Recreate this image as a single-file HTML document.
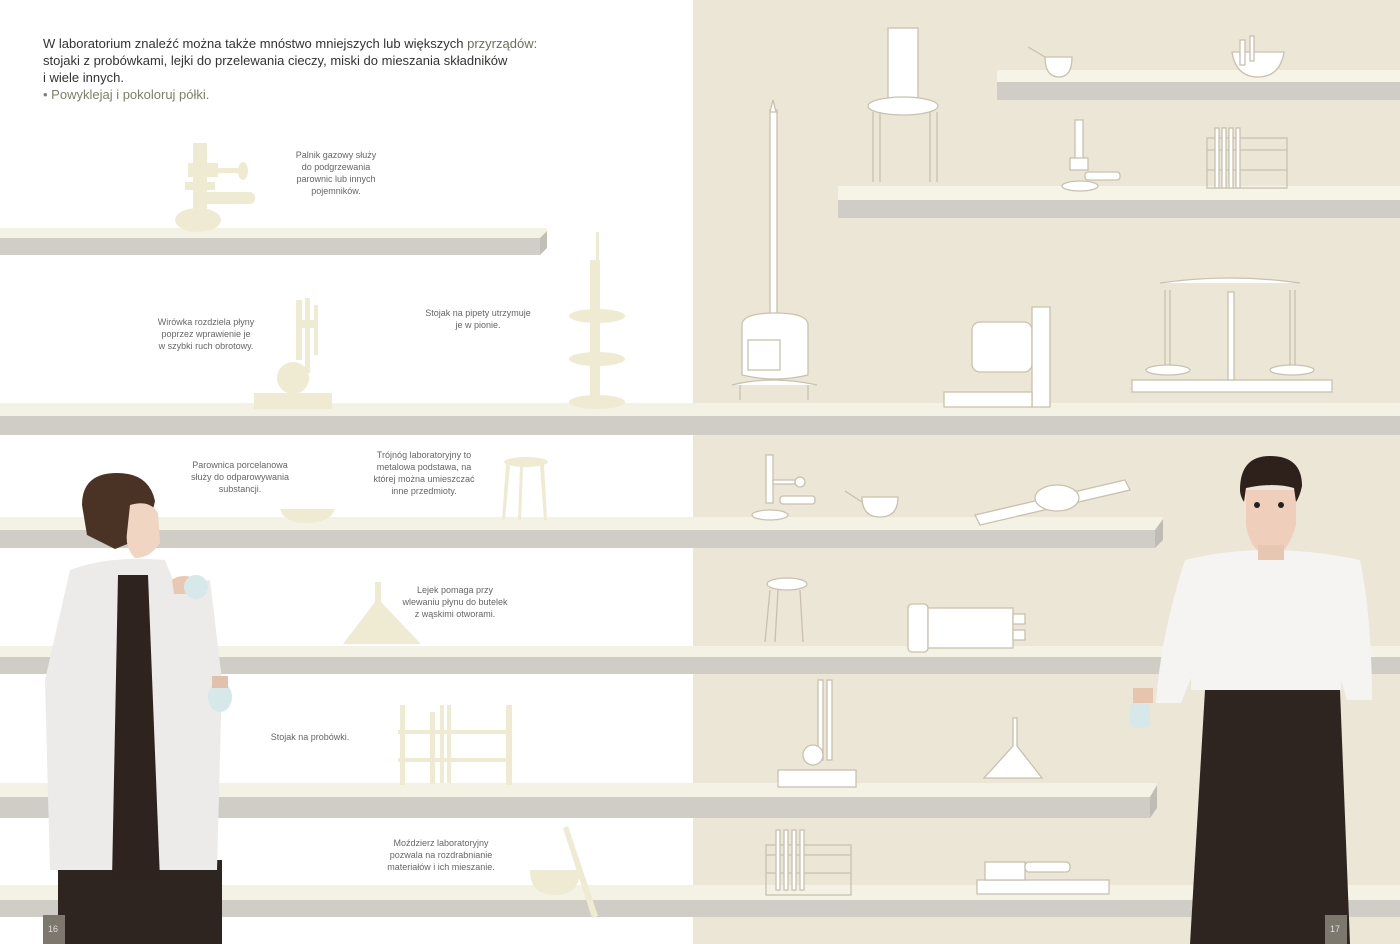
<!DOCTYPE html>
<html><head><meta charset="utf-8"><style>
html,body{margin:0;padding:0;width:1400px;height:944px;overflow:hidden;background:#fff}
svg{display:block}
text{font-family:"Liberation Sans",sans-serif;fill:#555}
.cap{font-size:9px;fill:#666}
.o{fill:#fff;stroke:#c9c1ad;stroke-width:1.3}
.b{fill:#efebd3}
</style></head><body>
<svg width="1400" height="944" viewBox="0 0 1400 944" xmlns="http://www.w3.org/2000/svg">
<rect x="0" y="0" width="693" height="944" fill="#fff"/>
<rect x="693" y="0" width="707" height="944" fill="#ebe6d6"/>

<!-- shelves -->
<g>
<polygon points="0,228 547,228 547,238 0,238" fill="#f4f1e5"/><rect x="0" y="238" width="540" height="17" fill="#d0cec6"/><polygon points="540,238 547,231 547,248 540,255" fill="#c2c0b6"/>
<rect x="997" y="70" width="403" height="12" fill="#f6f3e7"/><rect x="997" y="82" width="403" height="18" fill="#cfcdc5"/>
<rect x="838" y="186" width="562" height="14" fill="#f6f3e7"/><rect x="838" y="200" width="562" height="18" fill="#cfcdc5"/>
<rect x="0" y="403" width="1400" height="13" fill="#f4f1e5"/><rect x="0" y="416" width="1400" height="19" fill="#cfcdc5"/>
<rect x="0" y="517" width="1163" height="13" fill="#f4f1e5"/><rect x="0" y="530" width="1155" height="18" fill="#cfcdc5"/><polygon points="1155,530 1163,519 1163,540 1155,548" fill="#bfbdb3"/>
<rect x="0" y="646" width="1400" height="11" fill="#f4f1e5"/><rect x="0" y="657" width="1400" height="17" fill="#cfcdc5"/>
<rect x="0" y="783" width="1157" height="14" fill="#f4f1e5"/><rect x="0" y="797" width="1150" height="21" fill="#cfcdc5"/><polygon points="1150,797 1157,785 1157,808 1150,818" fill="#bfbdb3"/>
<rect x="0" y="885" width="1400" height="15" fill="#f4f1e5"/><rect x="0" y="900" width="1400" height="17" fill="#cfcdc5"/>
</g>

<!-- intro text -->
<text x="43" y="48" style="font-size:13px;fill:#333">W laboratorium znaleźć można także mnóstwo mniejszych lub większych <tspan style="fill:#6b6f5a">przyrządów:</tspan></text>
<text x="43" y="65" style="font-size:13px;fill:#333">stojaki z probówkami, lejki do przelewania cieczy, miski do mieszania składników</text>
<text x="43" y="82" style="font-size:13px;fill:#333">i wiele innych.</text>
<text x="43" y="99" style="font-size:13px;fill:#7b8068">• Powyklejaj i pokoloruj półki.</text>

<!-- captions -->
<g text-anchor="middle">
<text x="336" y="158" class="cap">Palnik gazowy służy</text><text x="336" y="170" class="cap">do podgrzewania</text><text x="336" y="182" class="cap">parownic lub innych</text><text x="336" y="194" class="cap">pojemników.</text>
<text x="206" y="325" class="cap">Wirówka rozdziela płyny</text><text x="206" y="337" class="cap">poprzez wprawienie je</text><text x="206" y="349" class="cap">w szybki ruch obrotowy.</text>
<text x="478" y="316" class="cap">Stojak na pipety utrzymuje</text><text x="478" y="328" class="cap">je w pionie.</text>
<text x="240" y="468" class="cap">Parownica porcelanowa</text><text x="240" y="480" class="cap">służy do odparowywania</text><text x="240" y="492" class="cap">substancji.</text>
<text x="424" y="458" class="cap">Trójnóg laboratoryjny to</text><text x="424" y="470" class="cap">metalowa podstawa, na</text><text x="424" y="482" class="cap">której można umieszczać</text><text x="424" y="494" class="cap">inne przedmioty.</text>
<text x="455" y="593" class="cap">Lejek pomaga przy</text><text x="455" y="605" class="cap">wlewaniu płynu do butelek</text><text x="455" y="617" class="cap">z wąskimi otworami.</text>
<text x="310" y="740" class="cap">Stojak na probówki.</text>
<text x="441" y="846" class="cap">Moździerz laboratoryjny</text><text x="441" y="858" class="cap">pozwala na rozdrabnianie</text><text x="441" y="870" class="cap">materiałów i ich mieszanie.</text>
</g>

<!-- left beige silhouettes -->
<g class="b">
<rect x="193" y="143" width="14" height="70"/><rect x="188" y="163" width="30" height="14"/><rect x="215" y="168" width="25" height="5"/><ellipse cx="243" cy="171" rx="5" ry="9"/>
<rect x="185" y="182" width="30" height="8"/><rect x="200" y="192" width="55" height="12" rx="5"/><ellipse cx="198" cy="220" rx="23" ry="12"/>
<rect x="296" y="300" width="6" height="60"/><rect x="305" y="298" width="5" height="75"/><rect x="314" y="305" width="4" height="50"/><rect x="302" y="320" width="14" height="8"/>
<circle cx="293" cy="378" r="16"/><rect x="254" y="393" width="78" height="16"/>
<rect x="590" y="260" width="10" height="145"/><rect x="596" y="232" width="3" height="40"/>
<ellipse cx="597" cy="316" rx="28" ry="7"/><ellipse cx="597" cy="359" rx="28" ry="7"/><ellipse cx="597" cy="402" rx="28" ry="7"/>
<path d="M280 509 h55 q-5 14 -28 14 q-23 0 -27 -14z"/>
<ellipse cx="526" cy="462" rx="22" ry="5"/><path d="M506 464 l-4 56 h3 l5-54z M544 464 l3 56 h-3 l-4-54z M520 466 l-2 54 h3 l2-54z"/>
<path d="M375 582 h6 v20 l40 42 h-78 l32-42z"/>
<rect x="400" y="705" width="5" height="80"/><rect x="430" y="712" width="5" height="72"/><rect x="506" y="705" width="6" height="80"/><rect x="398" y="730" width="112" height="4"/><rect x="398" y="758" width="112" height="4"/>
<rect x="440" y="705" width="4" height="78"/><rect x="447" y="705" width="4" height="78"/>
<path d="M530 870 h50 q0 25 -25 25 q-25 0 -25-25z"/><path d="M563 828 l5-2 30 90 -6 2z"/>
</g>

<!-- right outlined equipment -->
<g class="o">
<path d="M1045 57 h27 q0 20 -13 20 q-14 0 -14-20z"/><line x1="1028" y1="47" x2="1045" y2="57"/>
<path d="M1232 52 h52 q-4 25 -26 25 q-22 0 -26-25z"/><rect x="1240" y="40" width="5" height="25"/><rect x="1250" y="36" width="4" height="25"/>
<rect x="888" y="28" width="30" height="78"/><ellipse cx="903" cy="106" rx="35" ry="9"/><path d="M873 112 v70 M880 112 v70 M930 112 v70 M937 112 v70"/>
<rect x="1075" y="120" width="8" height="40"/><rect x="1070" y="158" width="18" height="12"/><rect x="1085" y="172" width="35" height="8" rx="3"/><ellipse cx="1080" cy="186" rx="18" ry="5"/>
<rect x="1207" y="138" width="80" height="50" fill="none"/><line x1="1207" y1="150" x2="1287" y2="150"/><line x1="1207" y1="170" x2="1287" y2="170"/>
<rect x="1215" y="128" width="4" height="60"/><rect x="1222" y="128" width="4" height="60"/><rect x="1229" y="128" width="4" height="60"/><rect x="1236" y="128" width="4" height="60"/>
<rect x="770" y="110" width="7" height="210"/><path d="M773 100 l3 12 h-6z"/>
<path d="M742 325 q0-12 33-12 q33 0 33 12 v50 q-33 8 -66 0z"/><rect x="748" y="340" width="32" height="30"/><path d="M732 385 q40-10 85 0 M740 385 v15 M808 385 v15"/>
<rect x="972" y="322" width="60" height="50" rx="8"/><path d="M1032 307 h18 v100 h-18z"/><path d="M944 392 h88 v15 h-88z"/>
<rect x="1132" y="380" width="200" height="12"/><rect x="1228" y="292" width="6" height="88"/><path d="M1160 283 q70-10 140 0"/><path d="M1165 290 v80 M1170 290 v80 M1290 290 v80 M1295 290 v80"/><ellipse cx="1168" cy="370" rx="22" ry="5"/><ellipse cx="1292" cy="370" rx="22" ry="5"/>
<rect x="766" y="455" width="7" height="48"/><rect x="773" y="480" width="22" height="4"/><circle cx="800" cy="482" r="5"/><rect x="780" y="496" width="35" height="8" rx="3"/><ellipse cx="770" cy="515" rx="18" ry="5"/>
<path d="M862 497 h36 q0 20 -18 20 q-18 0 -18-20z"/><line x1="845" y1="491" x2="862" y2="502"/>
<path d="M975 515 l150-35 l5 10 l-150 35z"/><ellipse cx="1057" cy="498" rx="22" ry="13"/>
<ellipse cx="787" cy="584" rx="20" ry="6"/><path d="M770 590 l-5 52 M778 590 l-3 52 M800 590 l3 52"/>
<rect x="908" y="604" width="20" height="48" rx="4"/><rect x="928" y="608" width="85" height="40"/><rect x="1013" y="614" width="12" height="10"/><rect x="1013" y="630" width="12" height="10"/>
<rect x="818" y="680" width="5" height="80"/><rect x="827" y="680" width="5" height="80"/><circle cx="813" cy="755" r="10"/><rect x="778" y="770" width="78" height="17"/>
<path d="M1013 718 h4 v28 l25 32 h-58 l29-32z"/>
<rect x="766" y="845" width="85" height="50" fill="none"/><line x1="766" y1="855" x2="851" y2="855"/><line x1="766" y1="873" x2="851" y2="873"/>
<rect x="776" y="830" width="4" height="60"/><rect x="784" y="830" width="4" height="60"/><rect x="792" y="830" width="4" height="60"/><rect x="800" y="830" width="4" height="60"/>
<rect x="977" y="880" width="132" height="14"/><rect x="985" y="862" width="40" height="18"/><rect x="1025" y="862" width="45" height="10" rx="4"/>
</g>

<!-- left woman -->
<g>
<rect x="58" y="860" width="164" height="84" fill="#2f2520"/>
<path d="M70 570 q40-15 95-10 l10 25 l35 -5 l12 100 l-5 190 l-167 0 l-5 -190z" fill="#ecebea"/>
<path d="M118 575 h30 l12 305 h-48z" fill="#2e231e"/>
<path d="M82 505 q0-32 35-32 q32 0 38 28 q-5 25 -20 40 l-20 8 l-28 -14z" fill="#4a3325"/>
<path d="M130 505 q20-6 28 8 l2 30 q-10 15 -25 15 q-10 -10 -8 -25z" fill="#f0d5c3"/>
<path d="M172 580 q10-8 28 0 v14 h-26z" fill="#e9c8b3"/>
<circle cx="196" cy="587" r="12" fill="#d6e8ea"/><ellipse cx="220" cy="697" rx="12" ry="15" fill="#d6e8ea"/>
<rect x="212" y="676" width="16" height="12" fill="#e2c1ac"/>
</g>

<!-- right woman -->
<g>
<path d="M1205 690 h135 l10 254 h-160z" fill="#2f2520"/>
<path d="M1185 560 q80-20 175 0 q12 60 12 140 h-25 l-6 -20 v10 h-150 v-12 l-10 25 h-25 q5-70 29-143z" fill="#f5f4f2"/>
<path d="M1246 490 h50 v35 q-8 30 -25 30 q-20 0 -25-30z" fill="#efcfbc"/>
<path d="M1240 490 q0-34 30-34 q32 0 32 30 q-2 10 -6 16 l-2 -14 q-20 -6 -48 0 l-2 14 q-4 -6 -4 -12z" fill="#2e211b"/>
<rect x="1258" y="545" width="26" height="15" fill="#e9c6b2"/>
<circle cx="1257" cy="505" r="3" fill="#222"/><circle cx="1281" cy="505" r="3" fill="#222"/>
<rect x="1133" y="688" width="20" height="15" fill="#e6c4ae"/><rect x="1130" y="703" width="20" height="25" rx="5" fill="#d6e8ea"/>
</g>

<!-- page numbers -->
<rect x="43" y="915" width="22" height="29" fill="#7d786e"/><text x="48" y="932" style="font-size:9px;fill:#ddd">16</text>
<rect x="1325" y="915" width="22" height="29" fill="#7d786e"/><text x="1330" y="932" style="font-size:9px;fill:#ddd">17</text>
</svg>
</body></html>
